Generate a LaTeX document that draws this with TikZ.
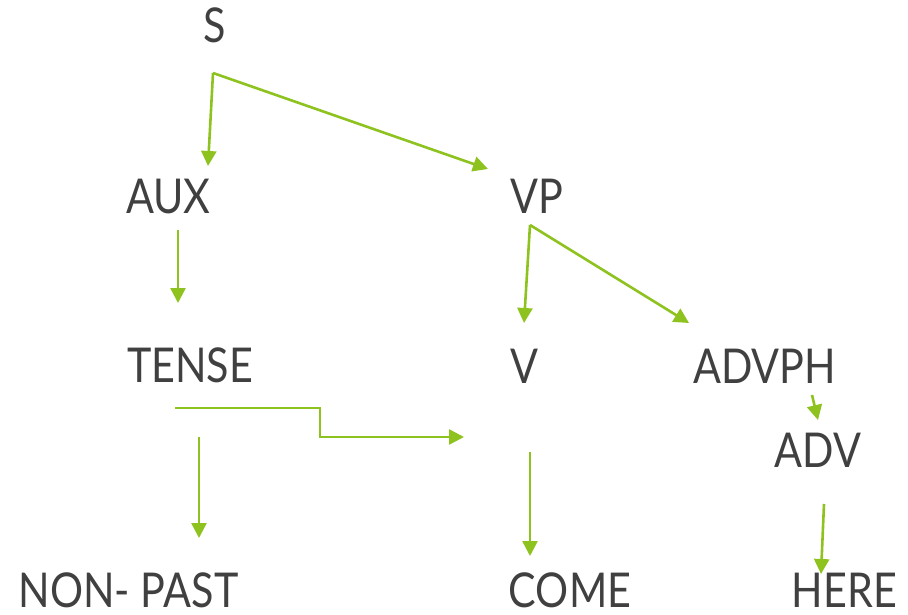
\documentclass[tikz,border=0pt]{standalone}
\usepackage{fontspec}
\setmainfont{Lato}
\usetikzlibrary{arrows.meta}
\definecolor{lgreen}{RGB}{141,194,31}
\definecolor{tgray}{RGB}{64,64,64}
\tikzset{
  lbl/.style={anchor=base, inner sep=0pt, text=tgray, xscale=0.86, font=\fontsize{48}{48}\selectfont},
  bottomlbl/.style={lbl, text depth=0pt},
  conn/.style={draw=lgreen, line width=2.6pt, -{Triangle[length=15pt,width=15pt]}},
  elbow/.style={conn, line join=miter}
}
\begin{document}
\begin{tikzpicture}[x=1pt,y=-1pt]
\useasboundingbox (0,0) rectangle (908,615);
\node[lbl] (S) at (215,43) {S};
\node[lbl] (AUX) at (168.5,213) {AUX};
\node[lbl] (VP) at (536.5,213) {VP};
\node[lbl] (TENSE) at (190,382) {TENSE};
\node[lbl] (V) at (524.5,383) {V};
\node[lbl] (ADVPH) at (764.5,383) {ADVPH};
\node[lbl] (ADV) at (818,467) {ADV};
\node[bottomlbl] (NONPAST) at (128.5,607) {NON- PAST};
\node[bottomlbl] (COME) at (570,607) {COME};
\node[bottomlbl] (HERE) at (844.5,607) {HERE};
% connector ends
\coordinate (s0) at (213,73);
\coordinate (aux1) at (208,166);
\coordinate (vp1) at (488,169);
\coordinate (aux0) at (178,230);
\coordinate (tense1) at (178,303);
\coordinate (vp0) at (530,225);
\coordinate (v1) at (524,323);
\coordinate (advph1) at (689,323);
\coordinate (tense0) at (175,408);
\coordinate (tbend) at (320,408);
\coordinate (tbend2) at (320,437);
\coordinate (tv1) at (464,437);
\coordinate (tense2) at (199,437);
\coordinate (np1) at (199,538);
\coordinate (v0) at (530,452);
\coordinate (come1) at (530,556);
\coordinate (advph0) at (812,395);
\coordinate (adv1) at (818,420);
\coordinate (adv0) at (824,504);
\coordinate (here1) at (821,574);
\draw[conn] (s0) -- (aux1);
\draw[conn] (s0) -- (vp1);
\draw[conn] (aux0) -- (tense1);
\draw[conn] (vp0) -- (v1);
\draw[conn] (vp0) -- (advph1);
\draw[elbow] (tense0) -- (tbend) -- (tbend2) -- (tv1);
\draw[conn] (tense2) -- (np1);
\draw[conn] (v0) -- (come1);
\draw[conn] (advph0) -- (adv1);
\draw[conn] (adv0) -- (here1);
\end{tikzpicture}
\end{document}
